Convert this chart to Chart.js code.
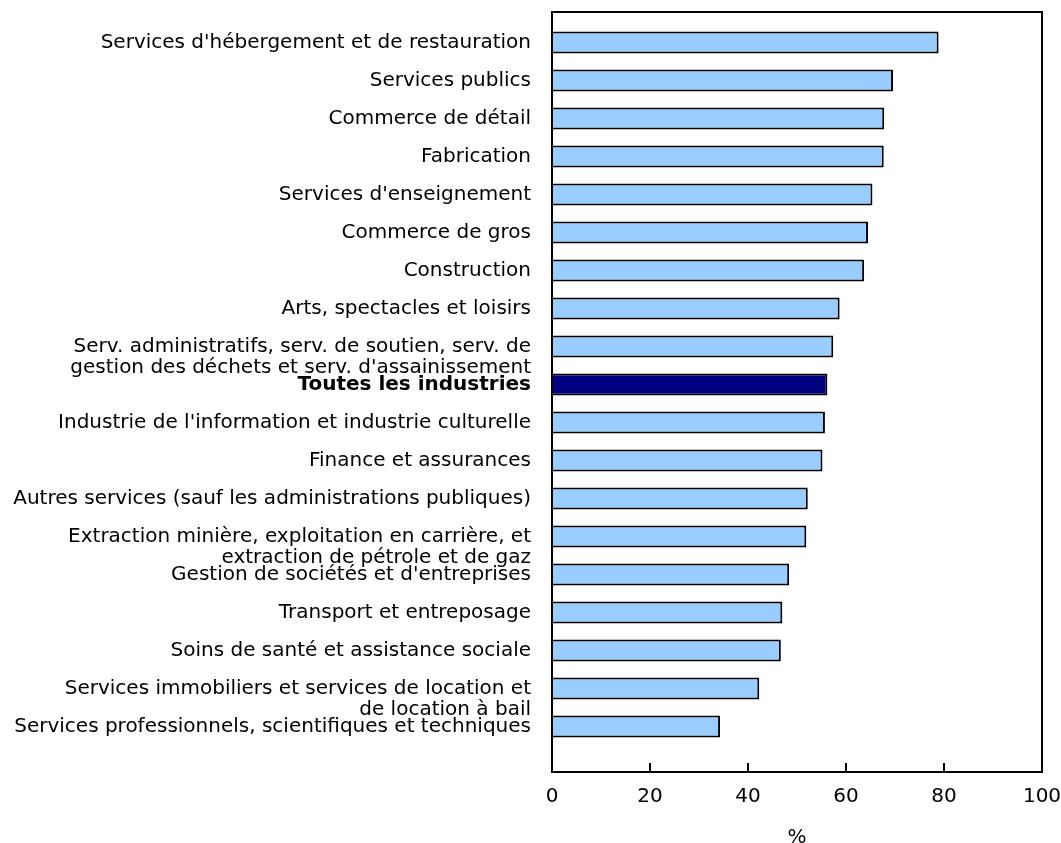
<!DOCTYPE html>
<html>
<head>
<meta charset="utf-8">
<script src="https://cdn.jsdelivr.net/npm/chart.js@4/dist/chart.umd.min.js"></script>
<style>
  html, body { margin: 0; padding: 0; background: #fff; }
  #wrap { width: 1061px; height: 843px; }
</style>
</head>
<body>
<div id="wrap"><canvas id="c" width="1061" height="843"></canvas></div>
<script>
// ---- data ----
const categories = [
  ["Services d'hébergement et de restauration"],
  ["Services publics"],
  ["Commerce de détail"],
  ["Fabrication"],
  ["Services d'enseignement"],
  ["Commerce de gros"],
  ["Construction"],
  ["Arts, spectacles et loisirs"],
  ["Serv. administratifs, serv. de soutien, serv. de", "gestion des déchets et serv. d'assainissement"],
  ["Toutes les industries"],
  ["Industrie de l'information et industrie culturelle"],
  ["Finance et assurances"],
  ["Autres services (sauf les administrations publiques)"],
  ["Extraction minière, exploitation en carrière, et", "extraction de pétrole et de gaz"],
  ["Gestion de sociétés et d'entreprises"],
  ["Transport et entreposage"],
  ["Soins de santé et assistance sociale"],
  ["Services immobiliers et services de location et", "de location à bail"],
  ["Services professionnels, scientifiques et techniques"]
];
const values = [78.9, 69.6, 67.8, 67.7, 65.4, 64.5, 63.7, 58.7, 57.4, 56.2, 55.7, 55.2, 52.2, 51.9, 48.4, 47.0, 46.7, 42.3, 34.3];
const highlightCategory = "Toutes les industries";
const xTicks = [0, 20, 40, 60, 80, 100];
const xTitle = "%";

// ---- build ----
const FONT = "'DejaVu Sans', Verdana, sans-serif";
const highlightIndex = categories.findIndex(c => c[0] === highlightCategory);
const tickLabels = categories.map(c => c.length > 1 ? [""].concat(c) : c[0]);
const barData = values.map((v, i) => ({ x: v, y: i }));
const bgColors = values.map((v, i) => i === highlightIndex ? '#000080' : '#99CCFF');

const framePlugin = {
  id: 'frame',
  afterDatasetsDraw(chart) {
    const { ctx, chartArea: a, scales } = chart;
    ctx.save();
    ctx.strokeStyle = '#000';
    ctx.lineWidth = 2;
    ctx.strokeRect(a.left, a.top, a.right - a.left, a.bottom - a.top);
    ctx.beginPath();
    xTicks.forEach(t => {
      const px = Math.round(scales.x.getPixelForValue(t));
      ctx.moveTo(px, a.bottom);
      ctx.lineTo(px, a.bottom - 9);
    });
    ctx.stroke();
    ctx.restore();
  }
};

new Chart(document.getElementById('c'), {
  type: 'bar',
  data: {
    datasets: [{
      data: barData,
      backgroundColor: bgColors,
      borderColor: '#000',
      borderWidth: 2,
      borderSkipped: 'start',
      barPercentage: 0.58,
      categoryPercentage: 1
    }]
  },
  options: {
    indexAxis: 'y',
    responsive: false,
    animation: false,
    devicePixelRatio: 1,
    layout: { padding: { top: 12, right: 19, bottom: 0, left: 0 } },
    plugins: { legend: { display: false }, tooltip: { enabled: false } },
    scales: {
      y: {
        type: 'linear',
        reverse: true,
        offset: false,
        min: -0.8,
        max: 19.2,
        afterBuildTicks: s => { s.ticks = categories.map((_, i) => ({ value: i })); },
        afterFit: s => { s.width = 552; s.paddingTop = 0; s.paddingBottom = 0; },
        grid: { display: false, drawTicks: false },
        border: { display: false },
        ticks: {
          color: '#000',
          padding: 21,
          autoSkip: false,
          callback: v => tickLabels[v],
          font: ctx => ({
            family: FONT,
            size: 20,
            lineHeight: 1.08,
            weight: (ctx.tick && ctx.tick.value === highlightIndex) ? 'bold' : 'normal'
          })
        }
      },
      x: {
        type: 'linear',
        min: 0,
        max: 100,
        afterBuildTicks: s => { s.ticks = xTicks.map(v => ({ value: v })); },
        afterFit: s => { s.height = 71; s.paddingLeft = 0; s.paddingRight = 0; },
        grid: { display: false, drawTicks: false },
        border: { display: false },
        ticks: {
          color: '#000',
          padding: 13,
          maxRotation: 0,
          font: { family: FONT, size: 20, lineHeight: 1.2 }
        },
        title: {
          display: true,
          text: xTitle,
          color: '#000',
          padding: { top: 0, bottom: -5 },
          font: { family: FONT, size: 20, lineHeight: 1 }
        }
      }
    }
  },
  plugins: [framePlugin]
});
</script>
</body>
</html>
